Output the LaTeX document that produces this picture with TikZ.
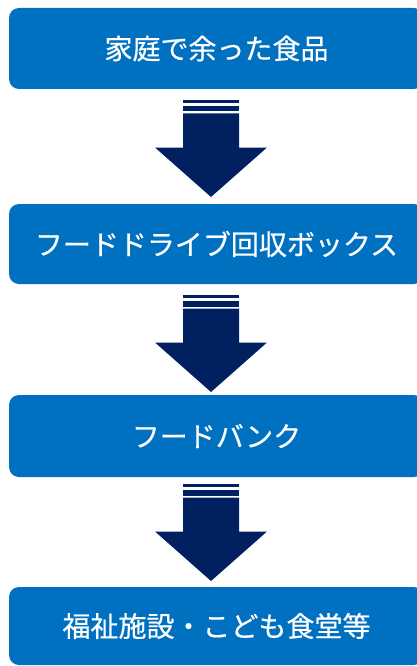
\documentclass[tikz,border=0pt]{standalone}
\usepackage{fontspec}
\newfontfamily\jpfont[FakeBold=0.5]{Noto Sans CJK JP}
\definecolor{boxblue}{HTML}{0070C0}
\definecolor{navy}{HTML}{002060}
\tikzset{
  flowbox/.style={fill=boxblue, draw=none, rounded corners=10pt},
  flowtext/.style={text=white, font=\jpfont\fontsize{28}{30}\selectfont, inner sep=0pt},
  arrowfill/.style={fill=navy, draw=none},
}
\newcommand\blockarrow[1]{%
  \begin{scope}[yshift=-#1pt]
    \fill[arrowfill] (183,0) rectangle (239,3);
    \fill[arrowfill] (183,6) rectangle (239,11.5);
    \fill[arrowfill] (183,13.5) -- (239,13.5) -- (239,47.5) -- (267,47.5) -- (211,97) -- (155,47.5) -- (183,47.5) -- cycle;
  \end{scope}}
\begin{document}
\begin{tikzpicture}[x=1pt,y=-1pt]
\useasboundingbox (0,0) rectangle (417,666);
\clip (0,0) rectangle (417,666);
\fill[flowbox] (9,8) rectangle (424,89);
\node[flowtext] (t1) at (216.5,48.5) {家庭で余った食品};
\fill[flowbox] (9,204) rectangle (424,284);
\node[flowtext] (t2) at (216.5,244) {フードドライブ回収ボックス};
\fill[flowbox] (9,395) rectangle (424,477);
\node[flowtext] (t3) at (216.5,436) {フードバンク};
\fill[flowbox] (9,587) rectangle (424,665);
\node[flowtext] (t4) at (216.5,626) {福祉施設・こども食堂等};
\blockarrow{100}
\blockarrow{295}
\blockarrow{484}
\end{tikzpicture}
\end{document}
